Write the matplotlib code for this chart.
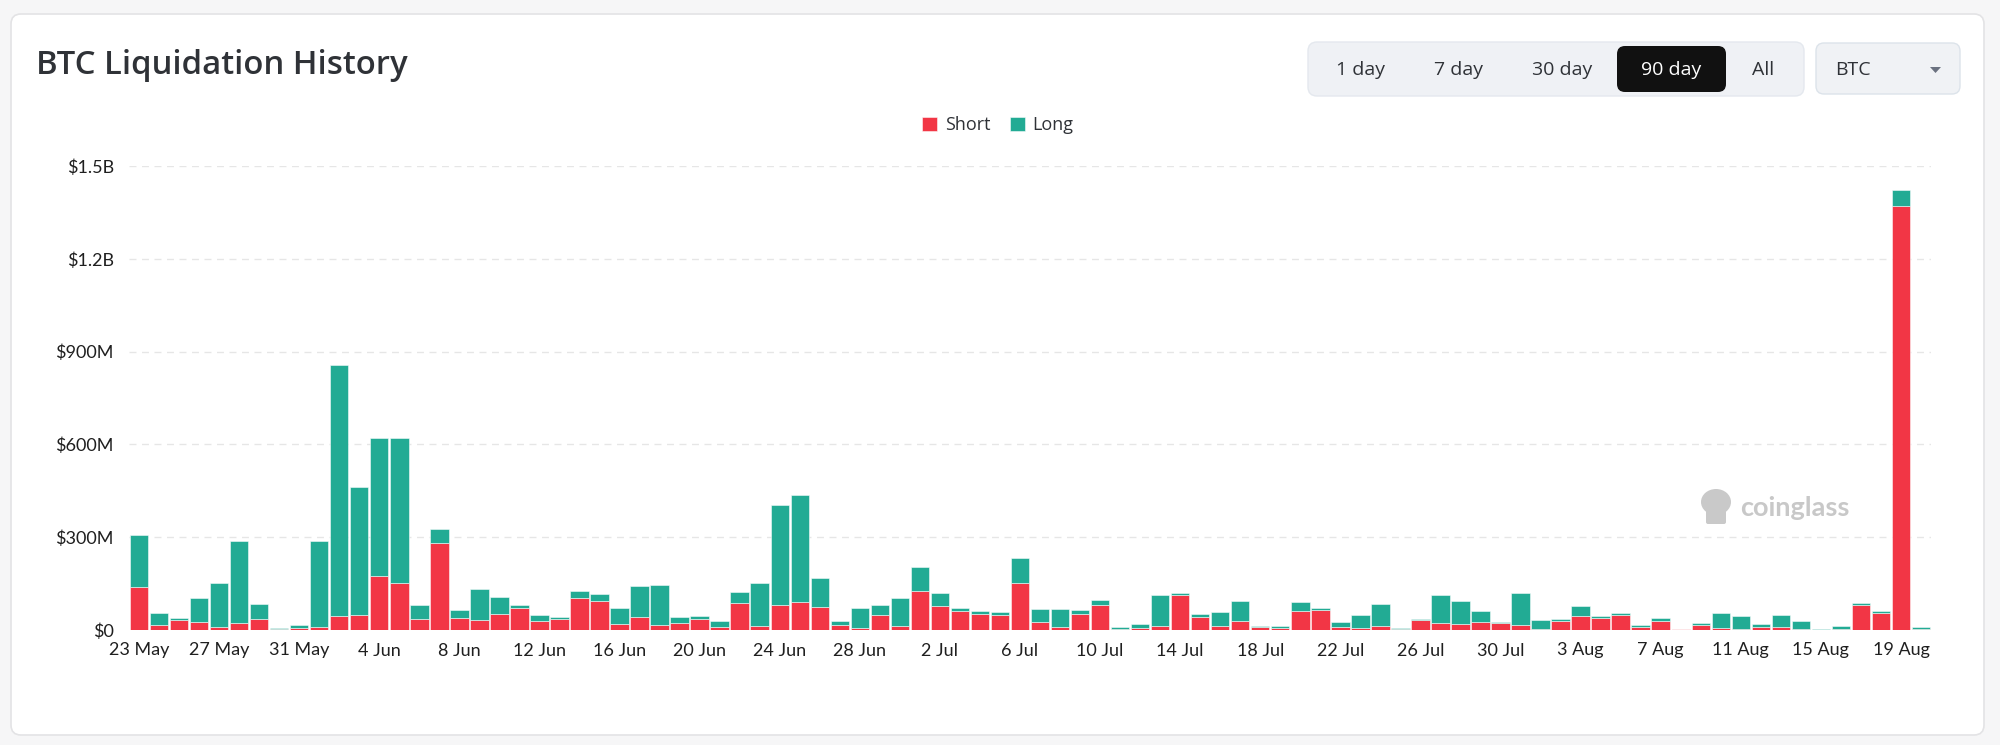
import matplotlib
matplotlib.use("Agg")
import matplotlib.pyplot as plt
import matplotlib.patches as mpatches
from matplotlib.ticker import FuncFormatter, FixedLocator
import numpy as np
import pandas as pd

# daily BTC liquidations, USD millions
days = pd.date_range("2024-05-23", periods=90, freq="D")
short_m = [138, 17, 32, 26, 11, 22, 35, 3, 6.5, 11,
           46, 50, 173, 153, 36, 281, 40, 31, 53, 71,
           28, 37, 105, 94, 19.5, 43, 16, 22, 36, 10,
           87, 14, 82, 92, 74, 15, 7.6, 47, 12, 127,
           76, 61, 51, 47, 151, 27, 11, 52, 81, 3,
           5, 12, 113, 41, 14, 29, 10, 7.6, 62, 64,
           11, 7.6, 14, 2, 32.5, 22, 18, 27, 22, 17,
           2, 28, 45, 38, 49, 9, 30, 3, 15, 5,
           4, 10, 9, 3, 1, 4, 82, 54, 1371, 3]
long_m = [169, 37, 7, 78, 141, 267, 48, 3.5, 8.5, 277,
          811, 412, 447, 467, 45, 45, 26, 102, 53, 11,
          19, 4, 20, 23, 52, 98, 129, 19, 9.5, 20,
          35, 138, 323, 343, 94, 14, 64, 33, 92, 78,
          45, 10, 10, 11, 81, 41, 57, 14, 16, 7,
          14, 102, 6, 10, 44, 64, 3, 5, 28, 7,
          16, 41, 70, 4.5, 3.5, 91, 76, 33, 3, 103,
          30.5, 7, 34, 6, 6, 8, 10, 0.5, 7, 49,
          40, 11, 40, 27, 2, 9, 5, 6, 51, 6]
yticks = [0, 300e6, 600e6, 900e6, 1200e6, 1500e6]
ranges = ["1 day", "7 day", "30 day", "90 day", "All"]
selected = "90 day"

RED = "#f23645"
GREEN = "#22ab94"
TXT = "#2f3237"

short = np.array(short_m) * 1e6
long_ = np.array(long_m) * 1e6
x = np.arange(len(days))

W, H = 2000, 745
fig = plt.figure(figsize=(W / 100, H / 100), dpi=100)
fig.patch.set_facecolor("#f6f6f7")

# background layer in pixel coordinates (card, title, buttons)
bg = fig.add_axes([0, 0, 1, 1], zorder=0)
bg.set_xlim(0, W)
bg.set_ylim(H, 0)
bg.axis("off")

def rbox(x0, y0, x1, y1, r, fc, ec="none", lw=1.0):
    bg.add_patch(mpatches.FancyBboxPatch((x0 + r, y0 + r), x1 - x0 - 2 * r, y1 - y0 - 2 * r,
                                         boxstyle="round,pad=%d" % r, fc=fc, ec=ec, lw=lw))

rbox(11, 14, 1984, 735, 10, "white", "#e3e3e5", 1.2)

bg.text(36, 66, "BTC Liquidation History", fontsize=23.7, fontweight="semibold",
        family="Open Sans", color=TXT, va="center", ha="left")

# range selector
rbox(1308, 42, 1804, 96, 9, "#eff1f5", "#e4e8ee", 1.0)
btn_x = [1361, 1459, 1562, 1671, 1763]
for lab, bx in zip(ranges, btn_x):
    col = TXT
    if lab == selected:
        rbox(1617, 46, 1726, 92, 8, "#111111")
        col = "white"
    bg.text(bx, 70, lab, fontsize=14, family="Open Sans", color=col, ha="center", va="center")

rbox(1816, 43, 1960, 94, 8, "#f0f2f5", "#dce3ea", 1.0)
bg.text(1835, 70, "BTC", fontsize=14, family="Open Sans", color=TXT, ha="left", va="center")
bg.add_patch(mpatches.Polygon([[1930, 67], [1941, 67], [1935.5, 73]], closed=True,
                              fc="#6b7280", ec="none"))

# watermark
bg.add_patch(mpatches.Ellipse((1716, 502), 30, 26, fc="#c9c9c9", ec="none"))
bg.add_patch(mpatches.FancyBboxPatch((1708, 505), 16, 17, boxstyle="round,pad=2",
                                     fc="#c9c9c9", ec="none"))
bg.text(1740, 508, "coinglass", fontsize=19.5, fontweight="bold", family="Lato",
        color="#c8c8c8", ha="left", va="center")

# main chart
ax = fig.add_axes([129 / W, 1 - 630 / H, (1931 - 129) / W, (630 - 166) / H], zorder=1)
ax.set_facecolor("none")
b1 = ax.bar(x, short, width=0.92, color=RED, edgecolor=(1, 1, 1, 0.6), linewidth=0.6,
            label="Short", zorder=3)
b2 = ax.bar(x, long_, bottom=short, width=0.92, color=GREEN, edgecolor=(1, 1, 1, 0.6),
            linewidth=0.6, label="Long", zorder=3)

ax.set_xlim(-0.5, len(days) - 0.5)
ax.set_ylim(0, 1.5e9)
for s in ax.spines.values():
    s.set_visible(False)

def money(v, pos):
    if v == 0:
        return "$0"
    if v >= 1e9:
        return "$%.1fB" % (v / 1e9)
    return "$%dM" % round(v / 1e6)

ax.yaxis.set_major_locator(FixedLocator(yticks))
ax.yaxis.set_major_formatter(FuncFormatter(money))
for yv in yticks[1:]:
    ax.axhline(yv, color="#e6e6e6", lw=1.0, ls=(0, (5, 4)), zorder=1)

tick_idx = list(range(0, len(days), 4))
ax.set_xticks(tick_idx)
ax.set_xticklabels([days[i].strftime("%-d %b") for i in tick_idx])
ax.tick_params(axis="both", length=0, labelsize=13, labelcolor="#1f1f1f")
ax.tick_params(axis="y", pad=11)
ax.tick_params(axis="x", pad=9)
for lab in ax.get_xticklabels() + ax.get_yticklabels():
    lab.set_family("Lato")

fig.legend(handles=[b1, b2], labels=["Short", "Long"], loc="center",
           bbox_to_anchor=(0.499, 1 - 125 / H), ncol=2, frameon=False,
           prop={"family": "Open Sans", "size": 13}, labelcolor=TXT,
           handlelength=0.8, handleheight=0.8, handletextpad=0.45, columnspacing=1.1)

fig.savefig("out.png", dpi=100, facecolor=fig.get_facecolor())
